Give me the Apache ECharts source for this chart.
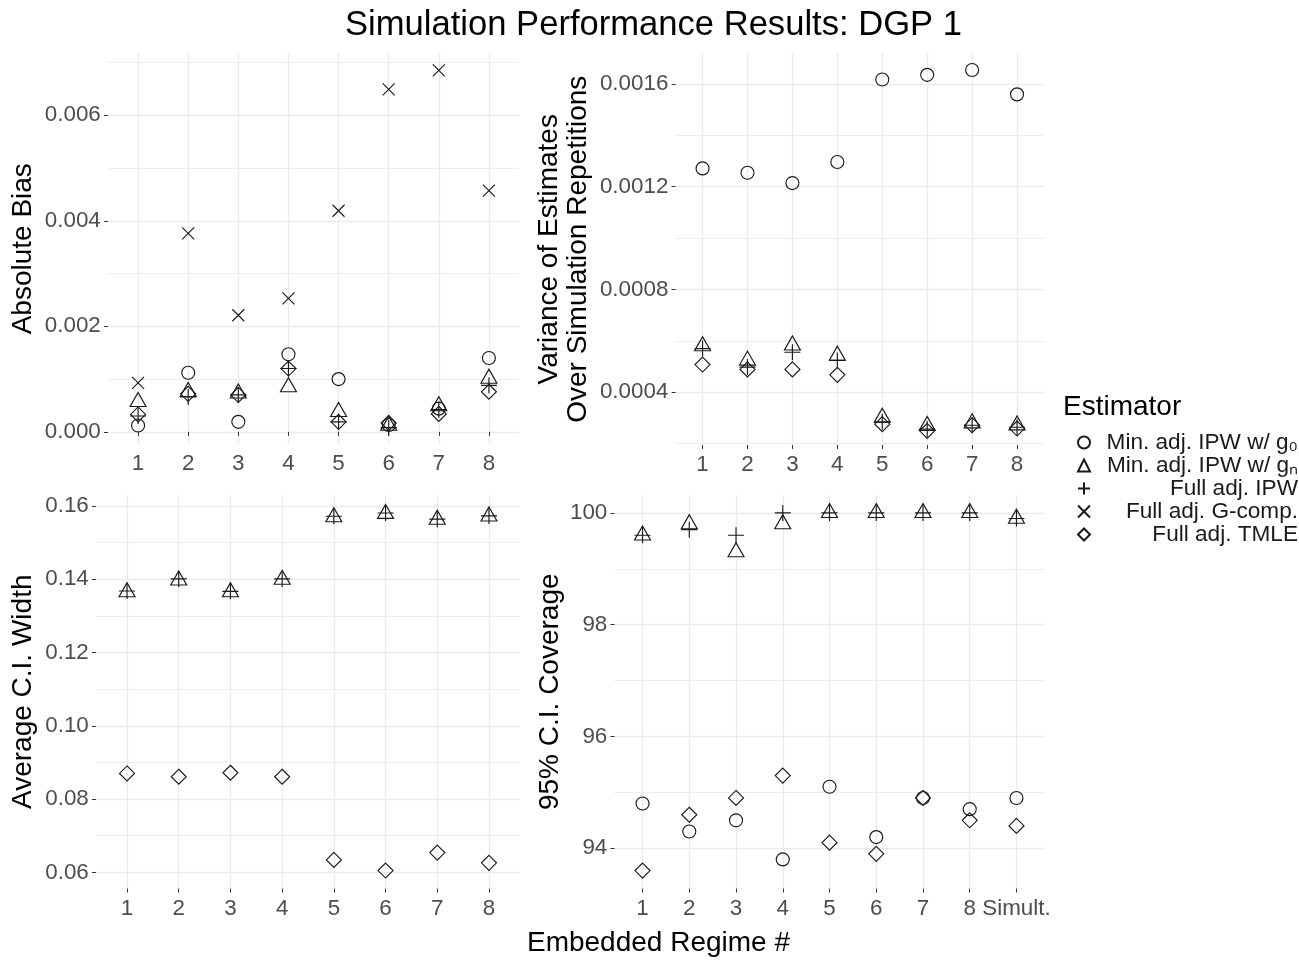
<!DOCTYPE html>
<html><head><meta charset="utf-8">
<script src="https://cdn.jsdelivr.net/npm/echarts@6/dist/echarts.min.js"></script>
<style>html,body{margin:0;padding:0;background:#fff}#c{width:1299px;height:962px}</style>
</head><body><div id="c"></div>
<script>
// ---------- data ----------
const regimes8 = ['1','2','3','4','5','6','7','8'];
const regimes9 = ['1','2','3','4','5','6','7','8','Simult.'];
const estimators = ['Min. adj. IPW w/ g\u2080','Min. adj. IPW w/ g\u2099','Full adj. IPW','Full adj. G-comp.','Full adj. TMLE'];

// Absolute bias
const biasMinG0  = [0.00012, 0.00112, 0.00019, 0.00147, 0.00100, 0.00013, 0.00044, 0.00140];
const biasMinGn  = [0.00057, 0.00076, 0.00073, 0.00085, 0.00038, 0.00012, 0.00049, 0.00101];
const biasFullIPW= [0.00030, 0.00066, 0.00070, 0.00120, 0.00019, 0.00008, 0.00042, 0.00088];
const biasGcomp  = [0.00093, 0.00376, 0.00221, 0.00253, 0.00419, 0.00649, 0.00685, 0.00457];
const biasTMLE   = [0.00033, 0.00072, 0.00070, 0.00120, 0.00019, 0.00017, 0.00034, 0.00076];

// Variance of estimates
const varMinG0   = [0.001271, 0.001254, 0.001214, 0.001296, 0.001617, 0.001635, 0.001654, 0.001559];
const varMinGn   = [0.000580, 0.000524, 0.000583, 0.000543, 0.000302, 0.000270, 0.000280, 0.000272];
const varFullIPW = [0.000570, 0.000498, 0.000556, 0.000524, 0.000285, 0.000257, 0.000272, 0.000264];
const varTMLE    = [0.000508, 0.000489, 0.000489, 0.000468, 0.000276, 0.000250, 0.000272, 0.000259];

// Average CI width
const widthMinGn   = [0.1365, 0.1397, 0.1365, 0.1399, 0.1570, 0.1579, 0.1563, 0.1572];
const widthFullIPW = [0.1368, 0.1401, 0.1367, 0.1401, 0.1572, 0.1581, 0.1564, 0.1573];
const widthTMLE    = [0.0870, 0.0861, 0.0872, 0.0861, 0.0634, 0.0605, 0.0654, 0.0626];

// 95% CI coverage
const covMinG0   = [94.8, 94.3, 94.5, 93.8, 95.1, 94.2, 94.9, 94.7, 94.9];
const covMinGn   = [99.6, 99.8, 99.3, 99.8, 100, 100, 100, 100, 99.9];
const covFullIPW = [99.6, 99.7, 99.6, 100, 100, 100, 100, 100, 99.9];
const covTMLE    = [93.6, 94.6, 94.9, 95.3, 94.1, 93.9, 94.9, 94.5, 94.4];

// tick values / labels
const biasTicks = [0, 0.002, 0.004, 0.006];          const biasTickLabels = ['0.000','0.002','0.004','0.006'];
const biasMinor = [0.001, 0.003, 0.005, 0.007];
const varTicks = [0.0004, 0.0008, 0.0012, 0.0016];   const varTickLabels = ['0.0004','0.0008','0.0012','0.0016'];
const varMinor = [0.0002, 0.0006, 0.0010, 0.0014];
const widthTicks = [0.06, 0.08, 0.10, 0.12, 0.14, 0.16]; const widthTickLabels = ['0.06','0.08','0.10','0.12','0.14','0.16'];
const widthMinor = [0.07, 0.09, 0.11, 0.13, 0.15];
const covTicks = [94, 96, 98, 100];                  const covTickLabels = ['94','96','98','100'];
const covMinor = [95, 97, 99];

// ---------- styling ----------
const FONT = '"Liberation Sans", Arial, Helvetica, sans-serif';
const GRID_COLOR = '#EBEBEB';
const MARK = '#1a1a1a';
const symbols = [
  {symbol:'circle', symbolSize:13, symbolOffset:[0,0]},
  {symbol:'triangle', symbolSize:[16,14], symbolOffset:[0,-2.3]},
  {symbol:'path://M0,5L10,5M5,0L5,10', symbolSize:16, symbolOffset:[0,0]},
  {symbol:'path://M0,0L10,10M10,0L0,10', symbolSize:12, symbolOffset:[0,0]},
  {symbol:'diamond', symbolSize:15, symbolOffset:[0,0]}
];

const grids = [
  {left:108,   top:53.5, width:411,   height:390.5},
  {left:675.6, top:53.5, width:368.4, height:391.5},
  {left:96,    top:495,  width:424,   height:393.5},
  {left:614.5, top:495,  width:430,   height:393.5}
];
const yRanges = [[-0.00023, 0.00717],[0.000195, 0.001718],[0.0556, 0.1630],[93.28, 100.32]];
const yNames = ['Absolute Bias','Variance of Estimates\nOver Simulation Repetitions','Average C.I. Width','95% C.I. Coverage'];
const yNameGaps = [70.7, 83, 58.7, 49.6];
const yTickSets = [[biasTicks,biasTickLabels,biasMinor],[varTicks,varTickLabels,varMinor],[widthTicks,widthTickLabels,widthMinor],[covTicks,covTickLabels,covMinor]];
const xCats = [regimes8, regimes8, regimes8, regimes9];

function lookup(vals, labels, v){
  let best=0, bd=Infinity;
  vals.forEach((t,i)=>{const d=Math.abs(t-v); if(d<bd){bd=d;best=i;}});
  return labels[best];
}

const xAxes = [], yAxes = [];
xCats.forEach((cats, g) => {
  const pos = cats.map((c,i)=>i+1);
  xAxes.push({
    type:'value', gridIndex:g, min:0.4, max:cats.length+0.6,
    axisLine:{show:false},
    axisTick:{show:true, length:4, customValues:pos, lineStyle:{color:'#333', width:1}},
    axisLabel:{customValues:pos, formatter:v=>cats[Math.round(v)-1], margin:9, fontSize:22.4, color:'#4D4D4D', fontFamily:FONT},
    splitLine:{show:true, lineStyle:{color:GRID_COLOR, width:1.4}}
  });
});
yTickSets.forEach((set, g) => {
  const [ticks, labels, minor] = set;
  yAxes.push({
    type:'value', gridIndex:g, position:'left', min:yRanges[g][0], max:yRanges[g][1],
    name:yNames[g], nameLocation:'middle', nameGap:yNameGaps[g], nameRotate:90,
    nameTextStyle:{fontSize:28, color:'#000', fontFamily:FONT, lineHeight:28.7},
    axisLine:{show:false},
    axisTick:{show:true, length:4, customValues:ticks, lineStyle:{color:'#333', width:1}},
    axisLabel:{customValues:ticks, formatter:v=>lookup(ticks,labels,v), margin:7.2, fontSize:22.4, color:'#4D4D4D', fontFamily:FONT},
    splitLine:{show:true, lineStyle:{color:GRID_COLOR, width:1.4}}
  });
});
yTickSets.forEach((set, g) => {
  const minor = set[2];
  yAxes.push({
    type:'value', gridIndex:g, position:'left', min:yRanges[g][0], max:yRanges[g][1],
    axisLine:{show:false},
    axisTick:{show:false, customValues:minor},
    axisLabel:{show:false},
    splitLine:{show:true, lineStyle:{color:'#EDEDED', width:1}}
  });
});

const panels = [
  [biasMinG0, biasMinGn, biasFullIPW, biasGcomp, biasTMLE],
  [varMinG0, varMinGn, varFullIPW, null, varTMLE],
  [null, widthMinGn, widthFullIPW, null, widthTMLE],
  [covMinG0, covMinGn, covFullIPW, null, covTMLE]
];

const series = [];
panels.forEach((arrs, g) => {
  arrs.forEach((vals, k) => {
    if (!vals) return;
    series.push({
      type:'scatter', name:estimators[k], xAxisIndex:g, yAxisIndex:g,
      symbol:symbols[k].symbol, symbolSize:symbols[k].symbolSize, symbolOffset:symbols[k].symbolOffset,
      itemStyle:{color:'rgba(0,0,0,0)', borderColor:MARK, borderWidth:1.15, opacity:1},
      emphasis:{disabled:true},
      data: vals.map((v,i)=>[i+1, v]),
      z: 3
    });
  });
});

const option = {
  animation:false,
  backgroundColor:'#fff',
  textStyle:{fontFamily:FONT},
  grid: grids.map(g=>Object.assign({containLabel:false}, g)),
  xAxis: xAxes,
  yAxis: yAxes,
  legend:{
    orient:'vertical', left:1077, top:431, padding:0, itemWidth:12, itemHeight:12, itemGap:0,
    data: estimators, selectedMode:false,
    formatter: name => '{r|' + name + '}',
    textStyle:{fontSize:22.6, color:'#1a1a1a', fontFamily:FONT, width:203,
      rich:{r:{align:'right', fontSize:22.6, lineHeight:20, fontFamily:FONT, color:'#1a1a1a', width:203}}}
  },
  graphic: [
    {type:'text', x:653.5, y:25, style:{text:'Simulation Performance Results: DGP 1', font:'34.6px ' + FONT, fill:'#000', align:'center', verticalAlign:'middle'}},
    {type:'text', x:658.5, y:943, style:{text:'Embedded Regime #', font:'28px ' + FONT, fill:'#000', align:'center', verticalAlign:'middle'}},
    {type:'text', x:1063, y:407, style:{text:'Estimator', font:'28px ' + FONT, fill:'#000', align:'left', verticalAlign:'middle'}}
  ],
  series
};
const chart = echarts.init(document.getElementById('c'), null, {renderer:'canvas'});
chart.setOption(option);
</script>
</body></html>
